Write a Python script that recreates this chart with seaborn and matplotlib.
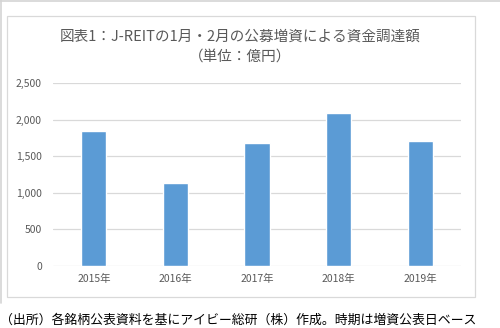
import matplotlib
matplotlib.use("Agg")
import matplotlib.pyplot as plt
import seaborn as sns
import pandas as pd
from matplotlib.patches import Rectangle
from matplotlib.lines import Line2D

years = ["2015年", "2016年", "2017年", "2018年", "2019年"]
amounts = [1850, 1130, 1680, 2090, 1710]
yticks = [0, 500, 1000, 1500, 2000, 2500]
ytick_labels = ["0", "500", "1,000", "1,500", "2,000", "2,500"]
title_lines = ["図表1：J-REITの1月・2月の公募増資による資金調達額", "（単位：億円）"]
footer = "（出所）各銘柄公表資料を基にアイビー総研（株）作成。時期は増資公表日ベース"

sns.set_style("white")
plt.rcParams['font.family'] = ['Noto Sans CJK JP', 'DejaVu Sans']

df = pd.DataFrame({"year": years, "amount": amounts})

fig = plt.figure(figsize=(5.0, 3.28), dpi=100)
ax = fig.add_axes([0.106, 0.189, 0.816, 0.557])

sns.barplot(data=df, x="year", y="amount", color="#5B9BD5", width=0.31,
            saturation=1, ax=ax, zorder=3)

ax.set_ylim(0, 2500)
ax.set_yticks(yticks)
ax.set_yticklabels(ytick_labels)
ax.set_xlim(-0.5, len(years) - 0.5)
ax.set_xlabel("")
ax.set_ylabel("")
ax.yaxis.grid(True, color="#D9D9D9", linewidth=0.9, zorder=0)
ax.set_axisbelow(True)
for s in ax.spines.values():
    s.set_visible(False)
ax.tick_params(axis="both", length=0, labelsize=7.5, labelcolor="#595959")
ax.tick_params(axis="y", pad=8)
ax.tick_params(axis="x", pad=6)

fig.text(0.48, 1 - 37 / 328, title_lines[0], ha="center", va="center",
         fontsize=10.5, color="#595959")
fig.text(0.48, 1 - 57 / 328, title_lines[1], ha="center", va="center",
         fontsize=10.5, color="#595959")

fig.text(0.0, 1 - 320 / 328, footer, ha="left", va="center",
         fontsize=9.3, color="#000000")

# inner chart box
fig.patches.append(Rectangle((7 / 500, 1 - 297 / 328), 468 / 500, 281 / 328,
                             transform=fig.transFigure, fill=False,
                             edgecolor="#D9D9D9", linewidth=0.9))
# outer frame lines
fig.lines.append(Line2D([0, 1], [1 - 0.8 / 328, 1 - 0.8 / 328],
                        transform=fig.transFigure, color="#D4D4D4", linewidth=1.2))
fig.lines.append(Line2D([1 / 500, 1 / 500], [1, 1 - 303 / 328],
                        transform=fig.transFigure, color="#D4D4D4", linewidth=1.2))

fig.savefig("out.png", dpi=100)
